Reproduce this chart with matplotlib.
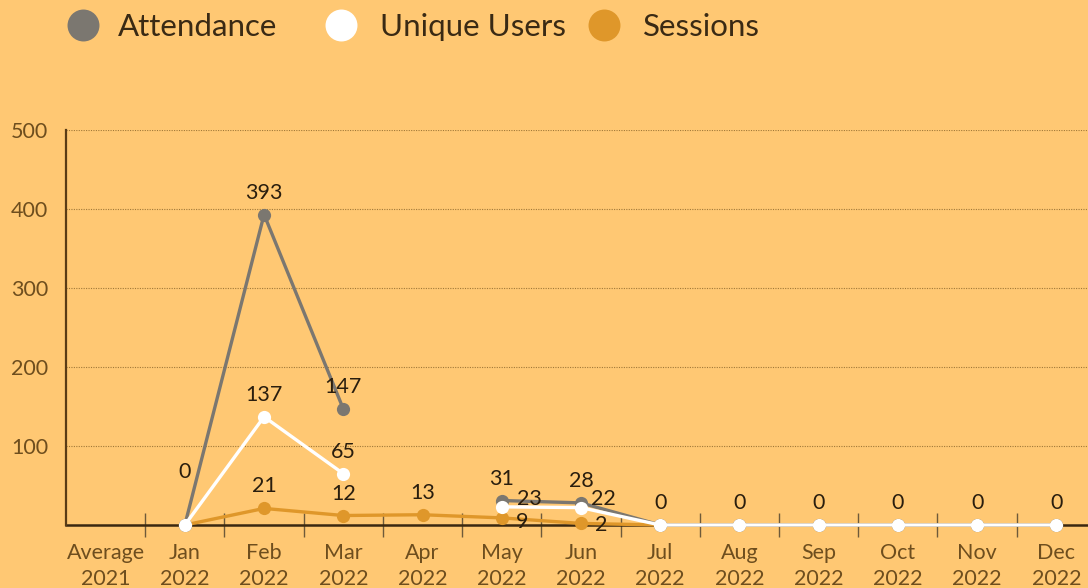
import matplotlib
matplotlib.use("Agg")
import matplotlib.pyplot as plt
from matplotlib.lines import Line2D
import numpy as np

plt.rcParams['font.family'] = ['Lato', 'DejaVu Sans']

categories = ["Average\n2021", "Jan\n2022", "Feb\n2022", "Mar\n2022", "Apr\n2022", "May\n2022",
              "Jun\n2022", "Jul\n2022", "Aug\n2022", "Sep\n2022", "Oct\n2022", "Nov\n2022", "Dec\n2022"]
attendance = [None, 0, 393, 147, None, 31, 28, 0, 0, 0, 0, 0, 0]
unique_users = [None, 0, 137, 65, None, 23, 22, 0, 0, 0, 0, 0, 0]
sessions = [None, 0, 21, 12, 13, 9, 2, 0, 0, 0, 0, 0, 0]
series_names = ["Attendance", "Unique Users", "Sessions"]
yticks = [100, 200, 300, 400, 500]

BG = "#FFC873"
COLORS = ["#7B7770", "#FFFFFF", "#DF972A"]
TICK_COLOR = "#6E4E1E"
LABEL_COLOR = "#2A1E0E"

fig = plt.figure(figsize=(10.88, 5.88), dpi=100, facecolor=BG)
W, H = 1088, 588
ax = fig.add_axes([66 / W, 1 - 525 / H, 1 - 66 / W, (525 - 130) / H])
ax.set_facecolor(BG)

x = np.arange(len(categories))
all_series = [attendance, unique_users, sessions]
zorders = [4, 5, 3]

for vals, col, z in zip(all_series, COLORS, zorders):
    y = np.array([np.nan if v is None else v for v in vals], dtype=float)
    ax.plot(x, y, color=col, lw=2.4, marker='o', ms=9.5, markeredgewidth=0,
            zorder=z, clip_on=False, solid_joinstyle='round')

# data labels (offsets in pixels: dx, dy up)
special = {(1, 5): (28, 8), (2, 5): (20, -4), (1, 6): (22, 9), (2, 6): (20, -2),
           (0, 1): (0, 53)}
labeled = set()
for si, vals in enumerate(all_series):
    for i, v in enumerate(vals):
        if v is None:
            continue
        key = (i, v)
        if key in labeled and (si, i) not in special:
            continue
        labeled.add(key)
        dx, dy = special.get((si, i), (0, 22))
        ax.annotate(str(v), (x[i], v), xytext=(dx * 0.72, dy * 0.72), textcoords='offset points',
                    ha='center', va='center', fontsize=15.5, color=LABEL_COLOR, zorder=10,
                    annotation_clip=False)

ax.set_xlim(-0.5, 12.4)
ax.set_ylim(0, 500)
ax.set_yticks(yticks)
ax.set_yticklabels([str(t) for t in yticks])
ax.set_xticks(x)
ax.set_xticklabels(categories, linespacing=1.4)
ax.set_xticks(np.arange(0.5, 12.5, 1), minor=True)
ax.tick_params(axis='x', which='major', length=0, pad=13, labelsize=15.5, labelcolor=TICK_COLOR)
ax.tick_params(axis='x', which='minor', length=17, direction='inout', width=1, color='#6E5A3A')
ax.tick_params(axis='y', length=0, pad=13, labelsize=15.5, labelcolor=TICK_COLOR)

ax.grid(axis='y', color='#A07838', lw=0.8, linestyle=(0, (1, 1.2)), zorder=0)
for s in ['top', 'right']:
    ax.spines[s].set_visible(False)
ax.spines['left'].set_color('#5A3C16')
ax.spines['left'].set_linewidth(1.6)
ax.spines['bottom'].set_color('#3A2810')
ax.spines['bottom'].set_linewidth(1.8)
ax.spines['bottom'].set_zorder(2)

# legend
leg_items = [(83, 118), (341, 380), (604, 643)]
for (mx, tx), name, col in zip(leg_items, series_names, COLORS):
    fig.add_artist(Line2D([mx / W], [1 - 25 / H], marker='o', ms=23, color=col,
                          markeredgewidth=0, transform=fig.transFigure))
    fig.text(tx / W, 1 - 27 / H, name, fontsize=22.5, color='#3A2A14', va='center', ha='left')

fig.savefig("out.png", dpi=100, facecolor=BG)
